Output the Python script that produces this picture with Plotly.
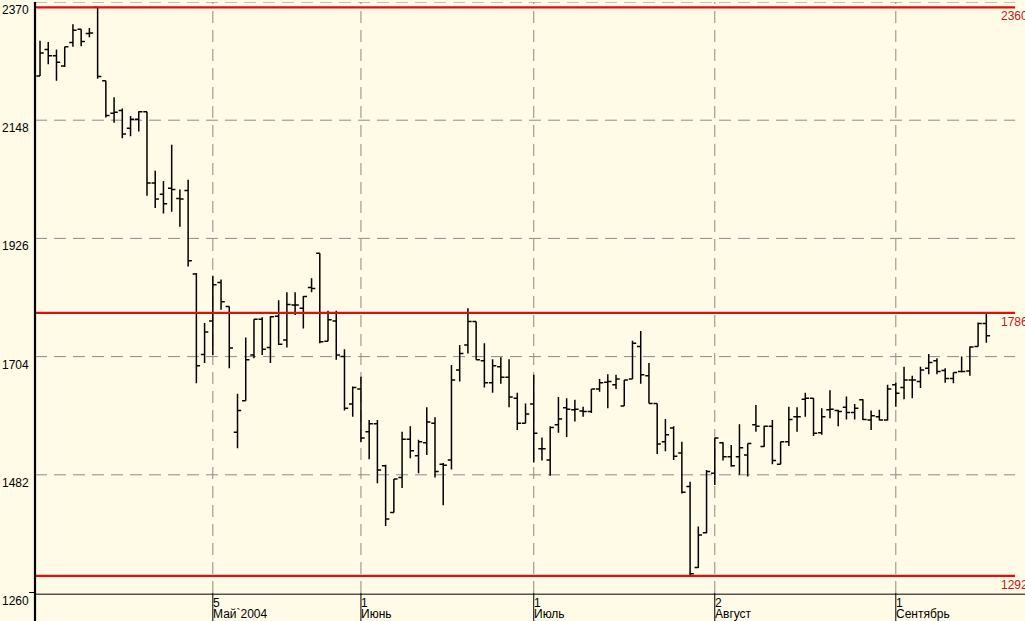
import plotly.graph_objects as go

# OHLC values per trading day (index 0 = first bar, early April 2004)
opens = [2231, 2281, 2269, 2250, 2294, 2319, 2311, 2360, 2222, 2161,
         2166, 2133, 2150, 2164, 2030, 2009, 2020, 2001, 2016, 1859,
         1708, 1771, 1843, 1798, 1562, 1621, 1707, 1774, 1721, 1780,
         1735, 1801, 1795, 1834, 1898, 1733, 1771, 1704, 1615, 1643,
         1563, 1578, 1499, 1411, 1477, 1549, 1518, 1542, 1579, 1502,
         1510, 1679, 1726, 1770, 1696, 1655, 1685, 1665, 1626, 1579,
         1615, 1531, 1510, 1576, 1608, 1604, 1602, 1601, 1643, 1656,
         1651, 1611, 1662, 1723, 1668, 1616, 1544, 1570, 1523, 1460,
         1308, 1373, 1485, 1542, 1516, 1516, 1519, 1576, 1535, 1573,
         1502, 1544, 1591, 1624, 1626, 1561, 1604, 1603, 1609, 1599,
         1623, 1585, 1591, 1585, 1651, 1646, 1660, 1657, 1682, 1696,
         1678, 1663, 1676, 1677, 1723, 1766]
highs = [2297, 2295, 2281, 2286, 2328, 2319, 2321, 2360, 2222, 2191,
         2170, 2156, 2165, 2164, 2053, 2034, 2102, 2018, 2036, 1861,
         1767, 1856, 1849, 1798, 1634, 1740, 1774, 1778, 1780, 1810,
         1825, 1825, 1818, 1851, 1898, 1790, 1790, 1718, 1648, 1666,
         1585, 1585, 1501, 1474, 1563, 1573, 1548, 1609, 1590, 1504,
         1688, 1726, 1795, 1770, 1729, 1699, 1703, 1699, 1636, 1616,
         1670, 1552, 1573, 1628, 1626, 1623, 1610, 1643, 1662, 1671,
         1670, 1660, 1734, 1752, 1692, 1616, 1587, 1573, 1544, 1469,
         1385, 1491, 1551, 1543, 1538, 1577, 1541, 1613, 1574, 1585,
         1544, 1610, 1609, 1636, 1626, 1607, 1641, 1604, 1629, 1615,
         1624, 1603, 1604, 1651, 1655, 1685, 1668, 1685, 1709, 1701,
         1682, 1674, 1704, 1723, 1768, 1788]
lows = [2231, 2253, 2222, 2248, 2286, 2287, 2304, 2226, 2153, 2143,
        2114, 2118, 2127, 2006, 1983, 1973, 1976, 1948, 1873, 1654,
        1692, 1707, 1792, 1682, 1532, 1621, 1701, 1707, 1692, 1726,
        1721, 1782, 1757, 1825, 1729, 1733, 1698, 1603, 1591, 1543,
        1511, 1466, 1386, 1411, 1457, 1513, 1485, 1519, 1477, 1425,
        1492, 1657, 1710, 1698, 1646, 1636, 1653, 1609, 1566, 1579,
        1505, 1509, 1480, 1561, 1553, 1582, 1591, 1598, 1638, 1607,
        1643, 1611, 1662, 1653, 1616, 1521, 1526, 1510, 1447, 1293,
        1307, 1372, 1463, 1509, 1497, 1482, 1479, 1563, 1534, 1502,
        1502, 1536, 1563, 1591, 1555, 1557, 1588, 1573, 1586, 1586,
        1585, 1566, 1584, 1584, 1610, 1624, 1626, 1645, 1671, 1671,
        1655, 1654, 1674, 1668, 1723, 1730]
closes = [2274, 2269, 2257, 2286, 2317, 2296, 2312, 2230, 2157, 2163,
          2122, 2150, 2164, 2030, 2000, 1991, 2018, 2000, 1884, 1687,
          1750, 1839, 1807, 1720, 1603, 1698, 1774, 1718, 1779, 1727,
          1802, 1801, 1817, 1832, 1732, 1773, 1707, 1607, 1646, 1551,
          1578, 1491, 1399, 1474, 1549, 1527, 1544, 1581, 1488, 1500,
          1660, 1710, 1770, 1698, 1655, 1687, 1665, 1628, 1579, 1596,
          1560, 1531, 1571, 1587, 1605, 1605, 1601, 1643, 1655, 1657,
          1662, 1660, 1729, 1670, 1616, 1540, 1557, 1517, 1449, 1296,
          1369, 1488, 1551, 1516, 1499, 1533, 1541, 1573, 1573, 1509,
          1544, 1586, 1591, 1626, 1560, 1591, 1605, 1601, 1599, 1607,
          1586, 1593, 1585, 1643, 1635, 1660, 1660, 1679, 1693, 1676,
          1663, 1674, 1676, 1722, 1766, 1743]

# month-start markers on the time axis (bar index, day, month label)
month_idx = [21, 39, 60, 82, 104]
month_day = ["5", "1", "1", "2", "1"]
month_name = ["Май`2004", "Июнь", "Июль", "Август", "Сентябрь"]

# value axis labels and horizontal levels
y_ticks = [1260, 1482, 1704, 1926, 2148, 2370]
red_levels = [2360, 1786, 1292]

Y_MIN, Y_MAX = 1260, 2370
X_MIN, X_MAX = -0.61, 119.7
BG = "#FFFBE6"
GRID = "#8A8A8A"
RED = "#DD1010"
FONT = "Liberation Sans, Arial, sans-serif"

idx = list(range(len(opens)))

fig = go.Figure(go.Ohlc(
    x=idx, open=opens, high=highs, low=lows, close=closes,
    increasing=dict(line=dict(color="black", width=1.5)),
    decreasing=dict(line=dict(color="black", width=1.5)),
    tickwidth=0.45, hoverinfo="skip", showlegend=False,
))

shapes = []
# horizontal dashed grid (excluding bottom axis)
for v in y_ticks[1:]:
    shapes.append(dict(type="line", xref="paper", yref="y", x0=0, x1=0.99,
                       y0=v, y1=v, line=dict(color=GRID, width=1, dash="12px,7px"),
                       layer="below"))
# vertical dashed grid at month starts + solid ticks below axis
for m in month_idx:
    shapes.append(dict(type="line", xref="x", yref="paper", x0=m, x1=m,
                       y0=0, y1=1, line=dict(color=GRID, width=1, dash="12px,7px"),
                       layer="below"))
    shapes.append(dict(type="line", xref="x", yref="paper", x0=m, x1=m,
                       y0=0, y1=-0.05, line=dict(color="black", width=1)))
# red horizontal levels
for v in red_levels:
    shapes.append(dict(type="line", xref="paper", yref="y", x0=0, x1=0.99,
                       y0=v, y1=v, line=dict(color=RED, width=2.2)))
# x axis line
shapes.append(dict(type="line", xref="paper", yref="paper", x0=0, x1=1,
                   y0=-0.002, y1=-0.002, line=dict(color="black", width=1)))
# y axis line (thick), extending below the x axis
shapes.append(dict(type="line", xref="paper", yref="paper", x0=0, x1=0,
                   y0=-0.05, y1=1, line=dict(color="black", width=2.2)))
# small tick at bottom value
shapes.append(dict(type="line", xref="paper", yref="y", x0=-0.006, x1=0,
                   y0=Y_MIN, y1=Y_MIN, line=dict(color="black", width=2)))

annotations = []
for v in y_ticks:
    annotations.append(dict(xref="paper", yref="y", x=0, y=v, text=str(v),
                            showarrow=False, xanchor="right", yanchor="top",
                            xshift=-5, yshift=0, borderpad=0,
                            font=dict(family=FONT, size=12, color="black")))
for v in red_levels:
    annotations.append(dict(xref="paper", yref="y", x=0.9747, y=v, text=str(v),
                            showarrow=False, xanchor="left", yanchor="top",
                            yshift=-1, borderpad=0,
                            font=dict(family=FONT, size=12, color="#C01818")))
for m, d, n in zip(month_idx, month_day, month_name):
    annotations.append(dict(xref="x", yref="paper", x=m, y=0, text=d,
                            showarrow=False, xanchor="left", yanchor="top",
                            xshift=-1, yshift=-2, borderpad=0,
                            font=dict(family=FONT, size=12, color="black")))
    annotations.append(dict(xref="x", yref="paper", x=m, y=0, text=n,
                            showarrow=False, xanchor="left", yanchor="top",
                            xshift=-1, yshift=-13, borderpad=0,
                            font=dict(family=FONT, size=12, color="black")))

fig.update_layout(
    width=1025, height=621,
    margin=dict(l=35, r=0, t=2, b=28),
    paper_bgcolor=BG, plot_bgcolor=BG,
    shapes=shapes, annotations=annotations,
    xaxis=dict(range=[X_MIN, X_MAX], showgrid=False, zeroline=False,
               showticklabels=False, showline=False, ticks="",
               rangeslider=dict(visible=False), fixedrange=True),
    yaxis=dict(range=[Y_MIN, Y_MAX], showgrid=False, zeroline=False,
               showticklabels=False, showline=False, ticks="", fixedrange=True),
    showlegend=False,
)

fig.write_html(
    "out.html",
    config={"displayModeBar": False},
    post_script=("document.body.style.margin='0';"
                 "document.body.style.padding='0';"
                 "document.body.style.overflow='hidden';"
                 "document.body.style.background='" + BG + "';"),
)
